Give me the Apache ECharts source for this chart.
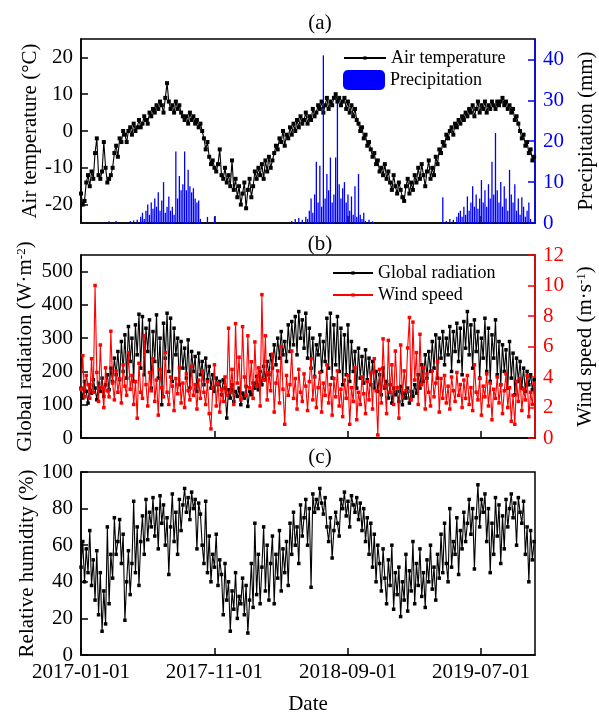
<!DOCTYPE html>
<html>
<head>
<meta charset="utf-8">
<script src="https://cdn.jsdelivr.net/npm/echarts@6/dist/echarts.min.js"></script>
<style>
  html, body { margin: 0; padding: 0; background: #fff; }
  #chart { width: 599px; height: 714px; }
</style>
</head>
<body>
<div id="chart"></div>
<script>
// Daily meteorological records, one sample every STEP_DAYS days from 2017-01-01.
const STEP_DAYS = 4;
const LAST_DAY = 1034;

// Date axis: day offsets from 2017-01-01 and their labels
const dateTicks = [0, 304, 608, 911];
const dateTickLabels = ['2017-01-01', '2017-11-01', '2018-09-01', '2019-07-01'];

// Air temperature (°C)
const airTemperature = [
  -17,-20,-19,-14,-12,-15,-11,-13,-6,-2,
  -12,-13,-11,-3,-10,-14,-13,-12,-10,-6,
  -4,-7,-2,-3,0,-1,-3,0,1,-1,
  2,0,1,3,1,2,4,3,2,5,
  4,6,5,7,6,8,7,5,9,13,
  8,6,7,5,8,6,7,5,4,3,
  4,2,5,3,4,2,3,1,2,0,
  -2,-5,-3,-7,-9,-8,-10,-11,-9,-5,
  -12,-13,-10,-14,-12,-15,-8,-16,-13,-18,
  -15,-20,-17,-14,-21,-16,-13,-18,-15,-11,
  -13,-10,-12,-9,-13,-8,-11,-7,-10,-8,
  -6,-4,-5,-2,-3,0,-4,-1,-2,1,
  -1,2,0,3,1,4,2,3,5,2,
  4,3,6,4,5,7,6,8,5,7,
  9,6,8,7,9,10,8,9,7,8,
  9,6,8,5,7,4,6,3,2,0,
  1,-2,-1,-4,-3,-5,-7,-6,-9,-8,
  -11,-10,-12,-9,-13,-11,-14,-16,-12,-15,
  -17,-14,-16,-18,-19,-15,-13,-17,-14,-16,
  -12,-14,-10,-13,-9,-12,-15,-11,-8,-13,
  -10,-12,-7,-9,-5,-6,-3,-4,-1,-2,
  0,1,-1,2,1,3,2,4,3,5,
  4,6,5,7,4,6,8,5,7,6,
  8,5,7,6,8,7,6,8,7,8,
  9,7,8,6,7,5,6,3,4,2,
  0,-2,-1,-4,-3,-6,-5,-8,-7
];

// Precipitation (mm)
const precipitation = [
  0,0,0,0,0,0,0,0,0,0,
  0,0,0,0,0,0,0.4,0,0,0,
  0.5,0,0,0,0,0,0,0,0.5,0,
  0.6,0,0.8,0,1.5,2.5,1,3,4.5,2,
  5,3.5,6,4,7.5,3,5.5,10,2.5,4,
  6.5,3,4,2,17.5,6,11.5,8,9.5,17.5,
  8,13,9,7.5,8.5,6,5,5.5,1,0,
  0,0,1.5,0,0,0,1.5,0,0,0,
  0,0,0,0,0,0,0,0,0,0,
  0,0,0,0,0,0,0,0,0,0,
  0,0,0,0,0,0,0,0,0,0,
  0,0,0,0,0,0,0,0,0,0,
  0.5,0,1,0,1.2,0,0.8,0,1.5,1,
  3,6,2.5,7,15,5,14,4,41,6,
  12,8,16,5,7,16,29.5,9.5,6,8.5,
  10,5,7,3,6.5,2,9,1.5,12,2,
  1,2.5,0.5,0,0.8,0,0.4,0,0,0,
  0,0,0,0,0,0,0,0,0,0,
  0,0,0,0,0,0,0,0,0,0,
  0,0,0,0,0,0,0,0,0,0,
  0,0,0,0,0,0,6.3,0,0.5,0,
  1,0,0.8,0,1.5,2.5,3,1.5,4,2,
  6.5,3,5,9,4,7,3.5,6,10.5,5,
  8,4,9.5,6,15,7,22,8,5,10,
  4,9,6,3,13,7,5,9.5,3,6,
  2,6.3,4,1.5,3,5,1,0,0
];

// Global radiation (W·m-2)
const globalRadiation = [
  150,120,170,140,105,160,135,175,150,115,
  165,140,180,125,160,190,145,210,170,240,
  190,260,175,290,200,310,180,335,230,300,
  170,340,250,372,210,365,190,330,260,355,
  150,320,230,370,180,300,100,345,240,375,
  200,360,170,330,250,300,160,290,210,270,
  180,295,150,260,200,245,140,255,190,230,
  160,240,175,215,150,190,140,180,160,170,
  130,175,150,60,145,120,160,110,140,125,
  150,100,135,120,155,95,140,130,165,150,
  185,145,200,160,215,175,230,190,250,210,
  280,220,300,240,320,250,290,230,340,260,
  350,280,365,250,380,300,355,270,375,240,
  330,210,300,185,280,250,310,200,290,230,
  360,210,375,180,340,220,365,200,330,160,
  310,190,340,170,290,200,260,150,270,180,
  245,165,265,175,240,160,230,150,200,140,
  190,130,210,150,170,120,160,105,150,130,
  140,110,155,100,135,120,150,105,140,125,
  160,135,190,150,220,170,250,180,260,200,
  290,210,310,180,300,240,320,220,300,250,
  335,200,320,260,345,230,330,190,350,270,
  380,250,340,210,355,260,320,180,300,240,
  360,200,330,170,310,240,355,190,290,160,
  280,200,265,150,290,180,255,130,240,170,
  230,150,210,140,200,160,190,145,175
];

// Wind speed (m·s-1)
const windSpeed = [
  3.2,5.4,2.7,4.1,3.5,2.6,5.2,3.0,10.0,4.3,
  2.4,6.1,3.3,2.0,4.6,3.1,2.7,7.0,3.6,2.5,
  4.4,3.0,3.9,2.3,4.8,3.4,2.8,5.6,3.2,4.1,
  2.2,3.7,1.3,4.9,3.0,2.6,6.7,3.5,2.1,4.3,
  3.1,5.2,2.4,3.8,1.5,4.5,3.3,2.7,5.6,3.0,
  2.2,4.0,3.4,1.8,3.9,2.9,4.6,2.3,3.6,2.0,
  4.2,3.1,2.5,4.7,2.8,3.5,1.9,3.8,2.6,4.4,
  3.0,2.2,3.7,1.6,0.6,3.3,4.8,2.1,3.6,1.7,
  3.2,2.4,4.0,2.8,7.2,3.0,4.5,2.2,7.5,3.6,
  5.3,2.5,7.3,4.0,2.8,6.7,3.3,5.0,2.6,6.3,
  3.4,4.6,2.1,9.4,3.8,6.7,2.5,4.3,3.1,5.5,
  1.7,3.6,4.4,2.3,6.0,3.2,0.9,4.1,2.8,3.5,
  5.7,2.6,3.9,1.9,4.5,3.0,2.4,4.2,3.4,1.8,
  3.7,5.2,2.5,4.0,2.0,3.3,4.3,1.7,3.6,2.8,
  4.8,2.3,3.5,1.5,3.9,2.7,4.4,2.1,3.2,1.4,
  3.8,2.6,4.1,0.9,3.3,2.4,4.6,1.2,3.0,2.2,
  4.0,2.9,1.6,3.7,2.5,4.3,1.9,5.2,3.1,0.2,
  4.5,2.3,6.5,3.4,1.6,6.4,3.0,4.8,2.2,5.7,
  3.3,1.3,6.1,2.7,4.4,3.1,5.9,7.9,2.5,7.6,
  3.8,5.6,2.2,6.8,3.5,4.6,1.9,4.2,3.0,2.1,
  4.4,2.7,3.6,5.0,1.7,3.9,2.6,4.1,2.3,3.4,
  1.9,4.0,3.1,2.4,4.3,2.8,3.5,2.0,3.8,2.6,
  4.1,2.2,3.3,1.8,4.8,3.0,2.5,3.9,1.5,3.4,
  2.7,4.2,2.1,3.6,1.2,3.2,2.6,4.0,2.3,3.5,
  1.6,3.1,4.2,2.0,3.3,1.1,2.8,0.9,3.7,2.4,
  3.9,1.8,3.2,2.5,4.1,1.4,3.0,2.2,3.6
];

// Relative humidity (%)
const relativeHumidity = [
  48,62,40,58,45,68,38,52,30,57,
  22,45,13,35,17,70,28,55,42,75,
  55,62,74,50,66,19,40,57,33,50,
  84,45,70,38,62,76,55,85,63,78,
  70,86,65,80,58,87,72,82,60,75,
  44,70,88,62,78,55,85,68,82,91,
  78,86,74,89,80,85,58,83,77,60,
  50,84,45,65,40,55,48,66,38,52,
  44,22,50,30,40,13,35,25,45,20,
  32,28,42,22,38,12,30,50,26,72,
  33,55,28,48,70,35,60,30,50,65,
  28,55,42,68,35,58,45,62,38,72,
  55,78,60,70,50,82,65,75,85,60,
  80,37,88,78,85,80,91,83,77,86,
  70,62,75,53,68,78,72,65,85,80,
  89,76,84,70,87,82,78,86,74,83,
  68,80,62,75,55,72,48,66,40,60,
  50,35,58,42,28,52,38,60,25,45,
  33,48,21,40,30,55,24,46,35,62,
  28,50,38,58,32,45,26,52,40,60,
  36,48,30,55,42,66,45,72,50,40,
  80,48,62,55,75,44,68,58,78,62,
  72,85,66,80,47,75,93,70,85,78,
  88,62,80,45,72,55,86,65,82,50,
  76,58,85,70,80,88,75,83,60,86,
  78,72,84,55,70,40,68,52,62
];

const FONT = '"Liberation Serif", "Times New Roman", serif';

// Pair each sample with its day offset
function withDays(values) {
  return values.map((v, i) => [i * STEP_DAYS, v]);
}

function dateAxis(gridIndex, showLabels) {
  return {
    type: 'value', gridIndex: gridIndex, min: 0, max: LAST_DAY,
    axisLine: { show: true, onZero: false, lineStyle: { color: '#000', width: 1.5 } },
    axisTick: { show: true, inside: true, length: 7, customValues: dateTicks,
                lineStyle: { color: '#000', width: 1.5 } },
    axisLabel: { show: showLabels, customValues: dateTicks, margin: 7,
                 fontFamily: FONT, fontSize: 21, color: '#000',
                 formatter: v => { const k = dateTicks.indexOf(v); return k >= 0 ? dateTickLabels[k] : ''; } },
    splitLine: { show: false },
    name: showLabels ? 'Date' : '',
    nameLocation: 'middle', nameGap: 39,
    nameTextStyle: { fontFamily: FONT, fontSize: 21, color: '#000' }
  };
}

function valueAxis(gridIndex, position, min, max, ticks, color, name, nameGap) {
  return {
    type: 'value', gridIndex: gridIndex, position: position, min: min, max: max,
    axisLine: { show: true, onZero: false, lineStyle: { color: color, width: 1.5 } },
    axisTick: { show: true, inside: true, length: 7, customValues: ticks,
                lineStyle: { color: color, width: 1.5 } },
    axisLabel: { show: true, customValues: ticks, margin: 8,
                 fontFamily: FONT, fontSize: 21, color: color },
    splitLine: { show: false },
    name: name, nameLocation: 'middle', nameRotate: 90, nameGap: nameGap,
    nameMoveOverlap: false,
    nameTextStyle: { fontFamily: FONT, fontSize: 21, color: '#000',
                     rich: { sup: { fontFamily: FONT, fontSize: 13, color: '#000', verticalAlign: 'top' } } }
  };
}

function panelLabel(text, y) {
  return {
    type: 'text', x: 320, y: y,
    style: { text: text, fontFamily: FONT, fontSize: 21, fill: '#000',
             align: 'center', verticalAlign: 'middle',
             textAlign: 'center', textVerticalAlign: 'middle' }
  };
}

const legendText = { fontFamily: FONT, fontSize: 18, color: '#000' };

function lineSeries(name, xIndex, yIndex, values, color, size, z) {
  return {
    name: name, type: 'line', xAxisIndex: xIndex, yAxisIndex: yIndex,
    data: withDays(values), symbol: 'rect', symbolSize: size, showAllSymbol: true,
    lineStyle: { color: color, width: 1.1 }, itemStyle: { color: color }, z: z
  };
}

// Fixed plot rectangles; labels and names may sit outside them
function panelGrid(top, height) {
  return { left: 81, top: top, width: 454, height: height, containLabel: false,
           outerBoundsMode: 'none', show: true, borderColor: '#000', borderWidth: 1.5 };
}

const chart = echarts.init(document.getElementById('chart'), null, { renderer: 'canvas' });
chart.setOption({
  animation: false,
  backgroundColor: '#fff',
  grid: [panelGrid(39, 184), panelGrid(255, 183), panelGrid(472, 183)],
  xAxis: [dateAxis(0, false), dateAxis(1, false), dateAxis(2, true)],
  yAxis: [
    valueAxis(0, 'left', -25, 25, [-20, -10, 0, 10, 20], '#000', 'Air temperature (°C)', 40),
    valueAxis(0, 'right', 0, 45, [0, 10, 20, 30, 40], '#0000ff', 'Precipitation (mm)', 41),
    valueAxis(1, 'left', 0, 550, [0, 100, 200, 300, 400, 500], '#000', 'Global radiation (W·m{sup|-2})', 45),
    valueAxis(1, 'right', 0, 12, [0, 2, 4, 6, 8, 10, 12], '#ff0000', 'Wind speed (m·s{sup|-1})', 40),
    valueAxis(2, 'left', 0, 100, [0, 20, 40, 60, 80, 100], '#000', 'Relative humidity (%)', 43)
  ],
  legend: [
    { data: ['Air temperature'], left: 343, top: 49, padding: 0, itemWidth: 42, itemHeight: 4, textStyle: legendText },
    { data: ['Precipitation'], left: 343, top: 70, padding: 0, itemWidth: 42, itemHeight: 20, textStyle: legendText },
    { data: ['Global radiation'], left: 332, top: 264, padding: 0, itemWidth: 40, itemHeight: 4, textStyle: legendText },
    { data: ['Wind speed'], left: 332, top: 286, padding: 0, itemWidth: 40, itemHeight: 4, textStyle: legendText }
  ],
  graphic: [panelLabel('(a)', 23), panelLabel('(b)', 244), panelLabel('(c)', 457)],
  series: [
    lineSeries('Air temperature', 0, 0, airTemperature, '#000', 4, 2),
    {
      name: 'Precipitation', type: 'bar', xAxisIndex: 0, yAxisIndex: 1,
      data: withDays(precipitation), barWidth: 1.3,
      itemStyle: { color: '#0000ff' }, z: 3
    },
    lineSeries('Global radiation', 1, 2, globalRadiation, '#000', 3.5, 2),
    lineSeries('Wind speed', 1, 3, windSpeed, '#ff0000', 3.5, 3),
    lineSeries('Relative humidity', 2, 4, relativeHumidity, '#000', 3.5, 2)
  ]
});
</script>
</body>
</html>
